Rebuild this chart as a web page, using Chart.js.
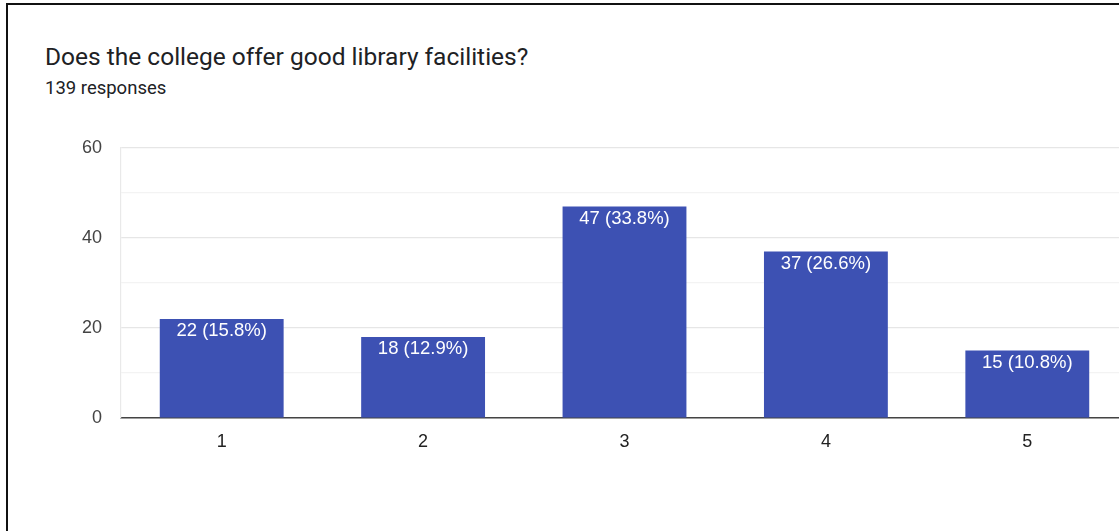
<!DOCTYPE html>
<html>
<head>
<meta charset="utf-8">
<script src="https://cdn.jsdelivr.net/npm/chart.js@4/dist/chart.umd.min.js"></script>
<style>
  html, body { margin: 0; padding: 0; background: #fff; overflow: hidden; width: 1119px; height: 531px; }
  #frame { position: absolute; left: 6px; top: 3px; width: 1200px; height: 600px; border-top: 2px solid #111; border-left: 2px solid #111; }
  #title { position: absolute; left: 45px; top: 42px; font-family: Roboto, "Noto Sans", sans-serif; font-size: 24.5px; color: #202124; white-space: nowrap; }
  #sub { position: absolute; left: 45px; top: 77px; font-family: Roboto, "Noto Sans", sans-serif; font-size: 18.5px; color: #202124; white-space: nowrap; }
  #wrap { position: absolute; left: 0; top: 0; width: 1128px; height: 531px; }
</style>
</head>
<body>
<div id="frame"></div>
<div id="title">Does the college offer good library facilities?</div>
<div id="sub">139 responses</div>
<div id="wrap"><canvas id="c" width="1128" height="531"></canvas></div>
<script>
const categories = ['1', '2', '3', '4', '5'];
const counts = [22, 18, 47, 37, 15];
const percentLabels = ['15.8%', '12.9%', '33.8%', '26.6%', '10.8%'];
const yTickLabels = [0, 20, 40, 60];

const FONT = '"Liberation Sans", Arial, sans-serif';

const barLabels = {
  id: 'barLabels',
  afterDatasetsDraw(chart) {
    const ctx = chart.ctx;
    const meta = chart.getDatasetMeta(0);
    ctx.save();
    ctx.fillStyle = '#ffffff';
    ctx.font = '18.5px ' + FONT;
    ctx.textAlign = 'center';
    ctx.textBaseline = 'top';
    meta.data.forEach((bar, i) => {
      ctx.fillText(counts[i] + ' (' + percentLabels[i] + ')', bar.x, bar.y + 3);
    });
    ctx.restore();
  }
};

new Chart(document.getElementById('c'), {
  type: 'bar',
  data: {
    labels: categories,
    datasets: [{
      data: counts,
      backgroundColor: '#3d51b3',
      borderWidth: 0,
      barPercentage: 0.615,
      categoryPercentage: 1.0
    }]
  },
  options: {
    responsive: false,
    animation: false,
    events: [],
    layout: { padding: { top: 148, right: 0, bottom: 73, left: 0 } },
    plugins: { legend: { display: false }, tooltip: { enabled: false } },
    scales: {
      x: {
        grid: { display: false, drawTicks: false },
        border: { display: true, color: '#444', width: 1.5 },
        ticks: { color: '#222', font: { family: FONT, size: 18 }, padding: 13 },
        afterFit(scale) { scale.height = 40; }
      },
      y: {
        min: 0, max: 60,
        ticks: {
          stepSize: 10,
          color: '#444',
          font: { family: FONT, size: 18 },
          padding: 19,
          callback: (v) => yTickLabels.includes(v) ? String(v) : ''
        },
        grid: {
          drawTicks: false,
          color: (c) => (c.tick && yTickLabels.includes(c.tick.value)) ? '#e6e6e6' : '#f3f3f3',
          lineWidth: 1.2
        },
        border: { display: true, color: '#e9e9e9', width: 1.2 },
        afterFit(scale) { scale.width = 121; }
      }
    }
  },
  plugins: [barLabels]
});
</script>
</body>
</html>
